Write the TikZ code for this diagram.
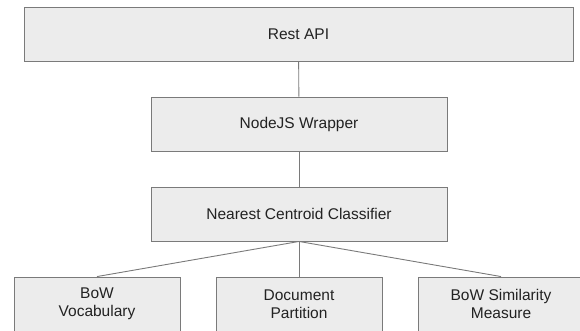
\documentclass[tikz,border=0pt]{standalone}
\usepackage{fontspec}
\setmainfont{Liberation Sans}
\usepackage{xcolor}
\usepackage{tikz}
\usetikzlibrary{positioning}
\definecolor{boxFill}{HTML}{ECECEC}
\definecolor{boxEdge}{HTML}{7A7A7A}
\definecolor{ink}{HTML}{222222}

\begin{document}
\begin{tikzpicture}[x=1pt,y=-1pt,font=\fontsize{15.5}{18}\selectfont,
  layer/.style={draw=boxEdge,fill=boxFill,line width=0.9pt,text=ink,align=center,inner sep=0pt,minimum height=54pt},
  link/.style={draw=boxEdge,line width=0.9pt}]
\useasboundingbox (0,0) rectangle (580,330);
% top layers
\node[layer,minimum width=549pt] (rest) at (298.5,34) {Rest API};
\node[layer,minimum width=296pt] (wrapper) at (299,124) {NodeJS Wrapper};
\node[layer,minimum width=296pt] (ncc) at (299,214) {Nearest Centroid Classifier};
% components
\node[layer,minimum width=166pt] (vocab) at (97,304) {BoW\\Vocabulary};
\node[layer,minimum width=166pt] (part) at (299,304) {Document\\Partition};
\node[layer,minimum width=166pt] (sim) at (501,304) {BoW Similarity\\Measure};
\draw[link] (rest) -- (wrapper);
\draw[link] (wrapper) -- (ncc);
\draw[link] (ncc.south) -- (vocab.north);
\draw[link] (ncc.south) -- (part.north);
\draw[link] (ncc.south) -- (sim.north);
\end{tikzpicture}
\end{document}
